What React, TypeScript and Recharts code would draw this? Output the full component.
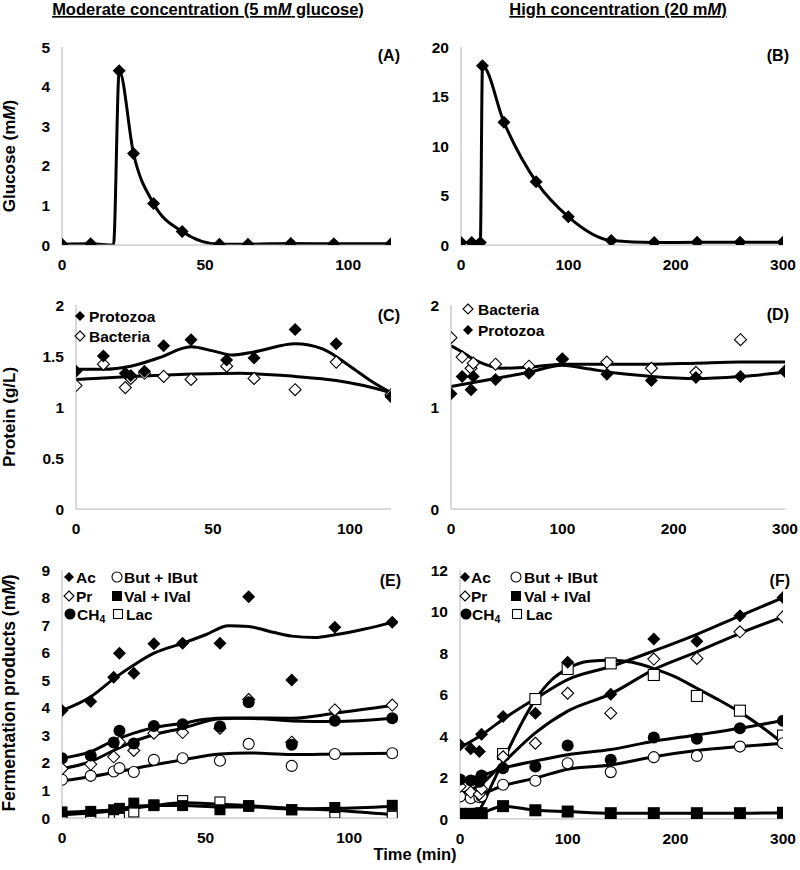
import React from "react";
import { LineChart, Line, XAxis, YAxis } from "recharts";

const FONT = '"Liberation Sans", Arial, Helvetica, sans-serif';
const AXIS_GREY = "#b3b3b3";

// sampling times (min)
const T_MOD = [0, 10, 18, 20, 25, 32, 42, 55, 65, 80, 95, 115];
const T_HIGH = [0, 10, 18, 20, 40, 70, 100, 140, 180, 220, 260, 300];

// (A) / (B) glucose, mM
const glucoseMod = [0.02, 0.03, 0, 4.4, 2.31, 1.05, 0.34, 0.02, 0.02, 0.04, 0.03, 0.03];
const glucoseHigh = [0.25, 0.25, 0.25, 18.1, 12.4, 6.4, 2.85, 0.45, 0.25, 0.28, 0.28, 0.28];

// (C) protein, g/L
const protozoaMod = [1.35, 1.5, 1.33, 1.31, 1.35, 1.6, 1.66, 1.46, 1.48, 1.76, 1.62, 1.1];
const bacteriaMod = [1.21, 1.42, 1.19, 1.28, 1.33, 1.3, 1.27, 1.4, 1.28, 1.17, 1.44, 1.12];
const protozoaModFitT = [0, 10, 20, 30, 42, 50, 57, 65, 80, 90, 100, 108, 115];
const protozoaModFit = [1.37, 1.37, 1.4, 1.48, 1.59, 1.55, 1.51, 1.54, 1.62, 1.57, 1.4, 1.25, 1.14];
const bacteriaModFitT = [0, 20, 40, 60, 80, 95, 105, 115];
const bacteriaModFit = [1.27, 1.3, 1.32, 1.33, 1.3, 1.26, 1.21, 1.14];

// (D) protein, g/L
const bacteriaHigh = [1.68, 1.49, 1.38, 1.43, 1.42, 1.4, 1.47, 1.44, 1.38, 1.34, 1.66, 1.35];
const protozoaHigh = [1.13, 1.3, 1.17, 1.3, 1.27, 1.33, 1.47, 1.32, 1.26, 1.29, 1.3, 1.35];
const bacteriaHighFitT = [0, 10, 20, 30, 45, 70, 100, 140, 180, 220, 260, 300];
const bacteriaHighFit = [1.6, 1.54, 1.47, 1.42, 1.38, 1.39, 1.42, 1.42, 1.42, 1.43, 1.44, 1.44];
const protozoaHighFitT = [0, 20, 40, 70, 100, 120, 150, 180, 220, 260, 300];
const protozoaHighFit = [1.2, 1.24, 1.28, 1.34, 1.41, 1.38, 1.33, 1.3, 1.28, 1.3, 1.34];

// (E) fermentation products, mM
const acMod = [3.9, 4.23, 5.11, 5.98, 5.25, 6.32, 6.34, 6.34, 8.03, 5.01, 6.92, 7.1];
const prMod = [1.79, 1.95, 2.22, 2.75, 2.45, 3.08, 3.1, 3.26, 4.3, 2.75, 3.92, 4.1];
const ch4Mod = [2.17, 2.27, 2.74, 3.17, 2.7, 3.34, 3.4, 3.32, 4.2, 2.66, 3.53, 3.62];
const butMod = [1.39, 1.53, 1.69, 1.81, 1.67, 2.11, 2.17, 2.08, 2.69, 1.89, 2.32, 2.35];
const valMod = [0.22, 0.24, 0.3, 0.35, 0.54, 0.48, 0.45, 0.3, 0.42, 0.3, 0.38, 0.46];
const lacMod = [0.06, 0, 0, 0, 0.22, 0.45, 0.63, 0.58, 0.45, 0.3, 0.18, 0.06];

const acModFitT = [0, 10, 18, 25, 32, 42, 50, 58, 65, 72, 80, 88, 95, 105, 115];
const acModFit = [3.9, 4.4, 5.05, 5.55, 5.98, 6.34, 6.65, 6.98, 6.95, 6.78, 6.6, 6.55, 6.65, 6.85, 7.1];
const ch4ModFitT = [0, 10, 18, 25, 32, 42, 50, 57, 70, 80, 95, 115];
const ch4ModFit = [2.17, 2.41, 2.81, 3.08, 3.28, 3.44, 3.58, 3.63, 3.6, 3.52, 3.5, 3.62];
const prModFitT = [0, 10, 18, 25, 32, 42, 55, 65, 80, 95, 115];
const prModFit = [1.79, 2.05, 2.45, 2.78, 3.02, 3.26, 3.6, 3.63, 3.62, 3.8, 4.08];
const butModFitT = [0, 10, 20, 32, 42, 55, 65, 80, 95, 115];
const butModFit = [1.35, 1.5, 1.69, 1.93, 2.11, 2.32, 2.36, 2.3, 2.32, 2.35];
const valModFitT = [0, 10, 20, 25, 32, 42, 55, 65, 80, 95, 115];
const valModFit = [0.2, 0.25, 0.33, 0.42, 0.45, 0.45, 0.4, 0.4, 0.33, 0.35, 0.42];
const lacModFitT = [0, 10, 20, 32, 42, 55, 65, 80, 95, 115];
const lacModFit = [0.12, 0.18, 0.28, 0.45, 0.55, 0.5, 0.45, 0.35, 0.28, 0.12];

// (F) fermentation products, mM
const acHigh = [3.57, 3.38, 3.25, 4.09, 4.94, 5.1, 7.55, 6.01, 8.67, 8.57, 9.79, 10.67];
const prHigh = [1.57, 1.3, 1.2, 1.45, 3.0, 3.65, 6.06, 5.1, 7.71, 7.74, 9.02, 9.74];
const ch4High = [1.9, 1.86, 1.8, 2.1, 2.45, 2.53, 3.54, 2.85, 3.93, 3.87, 4.37, 4.74];
const butHigh = [1.09, 1.0, 1.05, 1.1, 1.65, 1.84, 2.69, 2.26, 2.98, 3.04, 3.49, 3.65];
const valHigh = [0.25, 0.25, 0.25, 0.28, 0.62, 0.42, 0.36, 0.28, 0.28, 0.28, 0.28, 0.3];
const lacHigh = [0.02, 0.0, 0.05, 0.1, 3.13, 5.78, 7.23, 7.5, 6.94, 5.93, 5.22, 4.02];

const highFitT = [0, 20, 40, 70, 100, 140, 180, 220, 260, 300];
const acHighFit = [3.44, 4.05, 4.81, 5.8, 6.72, 7.35, 8.1, 8.9, 9.79, 10.67];
const prHighFit = [1.2, 1.7, 2.7, 4.15, 5.2, 6.03, 7.2, 8.05, 8.95, 9.74];
const ch4HighFit = [1.9, 2.1, 2.45, 2.8, 3.1, 3.35, 3.75, 4.05, 4.37, 4.75];
const butHighFit = [1.0, 1.2, 1.6, 1.97, 2.4, 2.6, 3.0, 3.3, 3.49, 3.65];
const lacHighFitT = [0, 12, 20, 30, 40, 55, 70, 85, 100, 120, 140, 160, 180, 200, 220, 240, 260, 280, 300];
const lacHighFit = [0, 0, 0.6, 1.7, 2.8, 4.4, 5.75, 6.7, 7.25, 7.6, 7.65, 7.55, 7.25, 6.85, 6.3, 5.75, 5.15, 4.45, 3.65];

const pts = (t: number[], v: number[]) => t.map((x, i) => ({ t: x, v: v[i] }));

type Kind = "diamond" | "diamondOpen" | "circle" | "circleOpen" | "square" | "squareOpen";

function Marker({ kind, cx, cy, r }: { kind: Kind; cx: number; cy: number; r: number }) {
  if (cx == null || cy == null) return <g />;
  const open = kind.endsWith("Open");
  const fill = open ? "#fff" : "#000";
  const stroke = open ? "#000" : "none";
  if (kind.startsWith("diamond")) {
    return (
      <path
        d={`M${cx},${cy - r}L${cx + r},${cy}L${cx},${cy + r}L${cx - r},${cy}Z`}
        fill={fill}
        stroke={stroke}
        strokeWidth={1.1}
      />
    );
  }
  if (kind.startsWith("circle")) {
    return <circle cx={cx} cy={cy} r={open ? r - 0.5 : r} fill={fill} stroke={stroke} strokeWidth={1.1} />;
  }
  const s = open ? r - 0.5 : r;
  return <rect x={cx - s} y={cy - s} width={s * 2} height={s * 2} fill={fill} stroke={stroke} strokeWidth={1.1} />;
}

const dotFn = (kind: Kind, r: number, skip: number[] = []) => (p: any) =>
  skip.includes(p.index) ? (
    <g key={`d-${p.index}`} />
  ) : (
    <Marker key={`d-${p.index}`} kind={kind} cx={p.cx} cy={p.cy} r={r} />
  );

// scatter-only series (markers, no connecting line)
function points(name: string, t: number[], v: number[], kind: Kind, r = 6) {
  return (
    <Line
      key={name}
      data={pts(t, v)}
      dataKey="v"
      stroke="none"
      dot={dotFn(kind, r)}
      activeDot={false}
      legendType="none"
      isAnimationActive={false}
    />
  );
}

// smooth fitted curve
function fit(name: string, t: number[], v: number[], w = 3) {
  return (
    <Line
      key={name}
      data={pts(t, v)}
      dataKey="v"
      type="monotone"
      stroke="#000"
      strokeWidth={w}
      dot={false}
      activeDot={false}
      legendType="none"
      isAnimationActive={false}
    />
  );
}

const YW = 50;
const MT = 10;
const MR = 14;
const XH = 34;

const tickStyle = { fill: "#000", fontSize: 15.5, fontWeight: 700, fontFamily: FONT };

function Panel(props: {
  x: number;
  y: number;
  w: number;
  h: number;
  xMax: number;
  xTicks: number[];
  yMax: number;
  yTicks: number[];
  children: React.ReactNode;
}) {
  const { x, y, w, h, xMax, xTicks, yMax, yTicks, children } = props;
  return (
    <div style={{ position: "absolute", left: x - YW, top: y - MT }}>
      <LineChart
        width={w + YW + MR}
        height={h + MT + XH}
        margin={{ top: MT, right: MR, bottom: 0, left: 0 }}
      >
        <XAxis
          type="number"
          dataKey="t"
          domain={[0, xMax]}
          ticks={xTicks}
          interval={0}
          height={XH}
          axisLine={{ stroke: AXIS_GREY }}
          tickLine={false}
          tickSize={0}
          tickMargin={14}
          tick={tickStyle}
          allowDataOverflow
        />
        <YAxis
          type="number"
          domain={[0, yMax]}
          ticks={yTicks}
          interval={0}
          width={YW}
          axisLine={{ stroke: AXIS_GREY }}
          tickLine={false}
          tickSize={0}
          tickMargin={12}
          tick={tickStyle}
          allowDataOverflow
        />
        {children}
      </LineChart>
    </div>
  );
}

const LBL = { fontFamily: FONT, fontWeight: 700, fill: "#000" } as const;

function LegendItem({ kind, mx, my, tx, label, r = 5 }: any) {
  return (
    <g>
      <Marker kind={kind} cx={mx} cy={my} r={r} />
      <text x={tx} y={my + 5.5} fontSize={15.5} {...LBL}>
        {label}
      </text>
    </g>
  );
}

const ch4Label = (
  <>
    CH<tspan fontSize={10.5} dy={3}>4</tspan>
  </>
);

function FermLegend({ x0, x1, tx0, tx1 }: { x0: number; x1: number; tx0: number; tx1: number }) {
  return (
    <g>
      <LegendItem kind="diamond" mx={x0} my={577} tx={tx0} label="Ac" />
      <LegendItem kind="diamondOpen" mx={x0} my={596} tx={tx0} label="Pr" />
      <LegendItem kind="circle" mx={x0 + 1} my={614} tx={tx0 + 1} label={ch4Label} r={5.5} />
      <LegendItem kind="circleOpen" mx={x1} my={577} tx={tx1} label="But + IBut" r={5.5} />
      <LegendItem kind="square" mx={x1} my={596} tx={tx1} label="Val + IVal" />
      <LegendItem kind="squareOpen" mx={x1 + 1} my={614} tx={tx1 + 2} label="Lac" r={5} />
    </g>
  );
}

export default function App() {
  return (
    <div style={{ position: "absolute", left: 0, top: 0, width: 800, height: 870, background: "#fff" }}>
      {/* (A) */}
      <Panel x={62} y={47} w={329} h={198} xMax={115} xTicks={[0, 50, 100]} yMax={5} yTicks={[0, 1, 2, 3, 4, 5]}>
        <Line
          data={pts(T_MOD, glucoseMod)}
          dataKey="v"
          type="monotone"
          stroke="#000"
          strokeWidth={3}
          dot={dotFn("diamond", 6.5, [2])}
          activeDot={false}
          isAnimationActive={false}
        />
      </Panel>
      {/* (B) */}
      <Panel x={461} y={47} w={322} h={198} xMax={300} xTicks={[0, 100, 200, 300]} yMax={20} yTicks={[0, 5, 10, 15, 20]}>
        <Line
          data={pts(T_HIGH, glucoseHigh)}
          dataKey="v"
          type="monotone"
          stroke="#000"
          strokeWidth={3}
          dot={dotFn("diamond", 6.5)}
          activeDot={false}
          isAnimationActive={false}
        />
      </Panel>
      {/* (C) */}
      <Panel x={76} y={305} w={315} h={204} xMax={115} xTicks={[0, 50, 100]} yMax={2} yTicks={[0, 0.5, 1, 1.5, 2]}>
        {points("bacC", T_MOD, bacteriaMod, "diamondOpen")}
        {points("proC", T_MOD, protozoaMod, "diamond", 6.5)}
        {fit("bacCf", bacteriaModFitT, bacteriaModFit)}
        {fit("proCf", protozoaModFitT, protozoaModFit)}
      </Panel>
      {/* (D) */}
      <Panel x={451} y={305} w={334} h={204} xMax={300} xTicks={[0, 100, 200, 300]} yMax={2} yTicks={[0, 1, 2]}>
        {points("bacD", T_HIGH, bacteriaHigh, "diamondOpen")}
        {points("proD", T_HIGH, protozoaHigh, "diamond", 6.5)}
        {fit("bacDf", bacteriaHighFitT, bacteriaHighFit)}
        {fit("proDf", protozoaHighFitT, protozoaHighFit)}
      </Panel>
      {/* (E) */}
      <Panel x={62} y={570} w={336} h={248} xMax={117} xTicks={[0, 50, 100]} yMax={9} yTicks={[0, 1, 2, 3, 4, 5, 6, 7, 8, 9]}>
        {points("lacE", T_MOD, lacMod, "squareOpen", 5.5)}
        {points("butE", T_MOD, butMod, "circleOpen", 6)}
        {points("prE", T_MOD, prMod, "diamondOpen", 6)}
        {points("valE", T_MOD, valMod, "square", 5.5)}
        {points("ch4E", T_MOD, ch4Mod, "circle", 6)}
        {points("acE", T_MOD, acMod, "diamond", 6.5)}
        {fit("lacEf", lacModFitT, lacModFit)}
        {fit("valEf", valModFitT, valModFit)}
        {fit("butEf", butModFitT, butModFit)}
        {fit("prEf", prModFitT, prModFit)}
        {fit("ch4Ef", ch4ModFitT, ch4ModFit)}
        {fit("acEf", acModFitT, acModFit)}
      </Panel>
      {/* (F) */}
      <Panel x={460} y={570} w={323} h={249} xMax={300} xTicks={[0, 100, 200, 300]} yMax={12} yTicks={[0, 2, 4, 6, 8, 10, 12]}>
        {points("lacF", T_HIGH, lacHigh, "squareOpen", 6)}
        {points("butF", T_HIGH, butHigh, "circleOpen", 6)}
        {points("prF", T_HIGH, prHigh, "diamondOpen", 6)}
        {points("valF", T_HIGH, valHigh, "square", 6)}
        {points("ch4F", T_HIGH, ch4High, "circle", 6)}
        {points("acF", T_HIGH, acHigh, "diamond", 6.5)}
        {fit("valFf", T_HIGH, valHigh)}
        {fit("lacFf", lacHighFitT, lacHighFit)}
        {fit("butFf", highFitT, butHighFit)}
        {fit("ch4Ff", highFitT, ch4HighFit)}
        {fit("prFf", highFitT, prHighFit)}
        {fit("acFf", highFitT, acHighFit)}
      </Panel>

      <svg width={800} height={870} style={{ position: "absolute", left: 0, top: 0, pointerEvents: "none" }}>
        <text x={208} y={15} textAnchor="middle" fontSize={16.5} style={{ textDecoration: "underline" }} {...LBL}>
          Moderate concentration (5 m<tspan fontStyle="italic">M</tspan> glucose)
        </text>
        <text x={618} y={15} textAnchor="middle" fontSize={16.5} style={{ textDecoration: "underline" }} {...LBL}>
          High concentration (20 m<tspan fontStyle="italic">M</tspan>)
        </text>

        <text transform="translate(15,156) rotate(-90)" textAnchor="middle" fontSize={17} {...LBL}>
          Glucose (m<tspan fontStyle="italic">M</tspan>)
        </text>
        <text transform="translate(15,417) rotate(-90)" textAnchor="middle" fontSize={17} {...LBL}>
          Protein (g/L)
        </text>
        <text transform="translate(15,693) rotate(-90)" textAnchor="middle" fontSize={17.5} {...LBL}>
          Fermentation products (m<tspan fontStyle="italic">M</tspan>)
        </text>
        <text x={415} y={860} textAnchor="middle" fontSize={16.5} {...LBL}>
          Time (min)
        </text>

        <text x={400} y={61} textAnchor="end" fontSize={16} {...LBL}>(A)</text>
        <text x={789} y={61} textAnchor="end" fontSize={16} {...LBL}>(B)</text>
        <text x={400} y={321} textAnchor="end" fontSize={16} {...LBL}>(C)</text>
        <text x={789} y={320} textAnchor="end" fontSize={16} {...LBL}>(D)</text>
        <text x={401} y={586} textAnchor="end" fontSize={16} {...LBL}>(E)</text>
        <text x={790} y={586} textAnchor="end" fontSize={16} {...LBL}>(F)</text>

        <LegendItem kind="diamond" mx={80} my={316} tx={89} label="Protozoa" />
        <LegendItem kind="diamondOpen" mx={80} my={336} tx={89} label="Bacteria" />
        <LegendItem kind="diamondOpen" mx={468} my={309} tx={478} label="Bacteria" />
        <LegendItem kind="diamond" mx={468} my={330} tx={478} label="Protozoa" />

        <FermLegend x0={69} x1={117} tx0={76} tx1={124} />
        <FermLegend x0={465} x1={516} tx0={471} tx1={524} />
      </svg>
    </div>
  );
}
